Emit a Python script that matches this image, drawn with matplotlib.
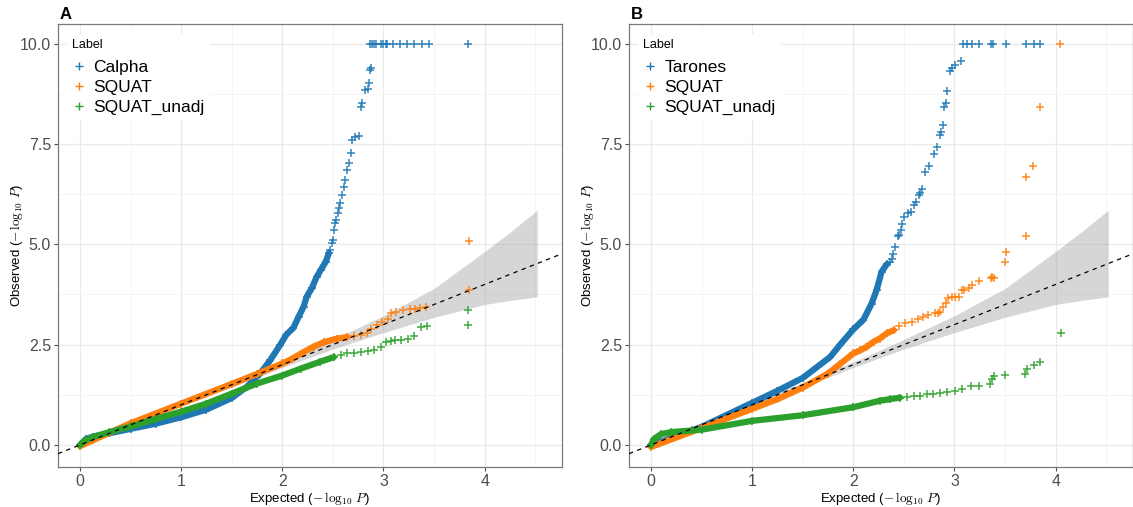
import matplotlib
matplotlib.use("Agg")
import matplotlib.pyplot as plt
from matplotlib.ticker import MultipleLocator, FixedLocator
from matplotlib.lines import Line2D

plt.rcParams["font.family"] = ["Liberation Sans", "DejaVu Sans"]
plt.rcParams["mathtext.fontset"] = "cm"

# -----------------------------
# Data
# -----------------------------
# confidence band (same in both panels)
band_x = [0, 0.5, 1.0, 1.5, 2.0, 2.5, 3.0, 3.5, 4.0, 4.25, 4.52]
band_lo = [0, 0.49, 0.97, 1.44, 1.93, 2.39, 2.80, 3.18, 3.50, 3.60, 3.69]
band_hi = [0, 0.51, 1.03, 1.56, 2.07, 2.63, 3.22, 3.90, 4.82, 5.30, 5.85]

# Panel A
calpha_dense_x = [0, 0.06, 0.13, 0.29, 0.5, 0.75, 1.0, 1.25, 1.5, 1.65, 1.78, 1.88,
                  1.98, 2.04, 2.11, 2.16, 2.21, 2.24, 2.29, 2.34, 2.38, 2.43, 2.46]
calpha_dense_y = [0, 0.15, 0.21, 0.29, 0.4, 0.53, 0.69, 0.88, 1.17, 1.45, 1.78, 2.11,
                  2.5, 2.75, 2.92, 3.19, 3.44, 3.69, 3.9, 4.19, 4.36, 4.57, 4.78]
calpha_tail_x = [2.47, 2.49, 2.50, 2.51, 2.52, 2.53, 2.55, 2.56, 2.57, 2.59, 2.61, 2.62,
                 2.64, 2.66, 2.68, 2.69, 2.72, 2.76, 2.78, 2.79, 2.82, 2.85, 2.86, 2.87,
                 2.88, 2.87, 2.89, 2.91, 2.93, 2.98, 3.00, 3.02, 3.03, 3.09, 3.16, 3.23,
                 3.30, 3.38, 3.45, 3.84]
calpha_tail_y = [4.85, 5.03, 5.1, 5.35, 5.53, 5.6, 5.77, 5.9, 6.02, 6.22, 6.43, 6.6,
                 6.85, 7.02, 7.28, 7.6, 7.67, 7.7, 8.43, 8.52, 8.85, 8.87, 9.03, 9.35,
                 9.4, 10.0, 10.0, 10.0, 10.0, 10.0, 10.0, 10.0, 10.0, 10.0, 10.0, 10.0,
                 10.0, 10.0, 10.0, 10.0]

squatA_dense_x = [0, 0.13, 0.5, 1.0, 1.5, 1.75, 2.0, 2.1, 2.2, 2.31, 2.41, 2.54, 2.64]
squatA_dense_y = [-0.03, 0.12, 0.54, 1.03, 1.52, 1.77, 2.03, 2.15, 2.3, 2.45, 2.56, 2.65, 2.69]
squatA_tail_x = [2.71, 2.78, 2.84, 2.88, 2.94, 2.99, 3.04, 3.07, 3.12, 3.19, 3.26, 3.31,
                 3.36, 3.42, 3.85, 3.85]
squatA_tail_y = [2.71, 2.73, 2.8, 2.9, 2.98, 3.07, 3.15, 3.28, 3.32, 3.36, 3.38, 3.38,
                 3.40, 3.44, 3.86, 5.07]

unadjA_dense_x = [0, 0.04, 0.13, 0.29, 0.5, 0.75, 1.0, 1.25, 1.5, 1.75, 2.0, 2.18, 2.37, 2.51]
unadjA_dense_y = [0, 0.09, 0.2, 0.32, 0.46, 0.65, 0.83, 1.03, 1.28, 1.53, 1.73, 1.9, 2.07, 2.19]
unadjA_tail_x = [2.58, 2.64, 2.71, 2.78, 2.85, 2.91, 2.98, 3.02, 3.07, 3.11, 3.17, 3.24,
                 3.30, 3.37, 3.43, 3.84, 3.84]
unadjA_tail_y = [2.23, 2.28, 2.3, 2.32, 2.34, 2.36, 2.44, 2.57, 2.6, 2.61, 2.61, 2.65,
                 2.71, 2.94, 2.96, 3.36, 3.0]

# Panel B
tarones_dense_x = [0, 0.2, 0.5, 1.0, 1.25, 1.5, 1.77, 1.87, 2.0, 2.1, 2.18, 2.23, 2.28, 2.33]
tarones_dense_y = [0, 0.17, 0.45, 1.05, 1.35, 1.67, 2.19, 2.5, 2.88, 3.12, 3.52, 3.86, 4.32, 4.5]
tarones_tail_x = [2.36, 2.38, 2.39, 2.41, 2.44, 2.45, 2.47, 2.48, 2.50, 2.54, 2.57, 2.60,
                  2.62, 2.65, 2.66, 2.68, 2.71, 2.75, 2.80, 2.83, 2.86, 2.87, 2.89, 2.90,
                  2.92, 2.93, 2.96, 2.98, 3.01, 3.06, 3.08, 3.12, 3.17, 3.24, 3.36, 3.38,
                  3.51, 3.71, 3.79, 3.85]
tarones_tail_y = [4.57, 4.64, 4.77, 4.93, 5.2, 5.23, 5.35, 5.5, 5.68, 5.77, 5.81, 5.98,
                  6.06, 6.22, 6.27, 6.39, 6.81, 6.95, 7.25, 7.43, 7.73, 7.81, 7.98, 8.43,
                  8.53, 8.81, 9.31, 9.39, 9.48, 9.56, 10.0, 10.0, 10.0, 10.0, 10.0, 10.0,
                  10.0, 10.0, 10.0, 10.0]

squatB_dense_x = [0, 0.5, 1.0, 1.25, 1.5, 1.75, 1.87, 2.0, 2.07, 2.13, 2.2, 2.26, 2.33, 2.4]
squatB_dense_y = [-0.05, 0.42, 0.9, 1.14, 1.43, 1.78, 2.02, 2.28, 2.36, 2.44, 2.57, 2.65, 2.78, 2.86]
squatB_tail_x = [2.45, 2.51, 2.58, 2.64, 2.69, 2.74, 2.81, 2.84, 2.86, 2.89, 2.92, 2.94,
                 2.98, 3.01, 3.04, 3.07, 3.09, 3.14, 3.17, 3.24, 3.36, 3.37, 3.39, 3.50,
                 3.51, 3.71, 3.71, 3.78, 3.85, 4.04]
squatB_tail_y = [2.96, 3.03, 3.07, 3.15, 3.19, 3.23, 3.28, 3.28, 3.32, 3.44, 3.53, 3.65,
                 3.69, 3.69, 3.69, 3.86, 3.87, 3.9, 3.98, 4.09, 4.15, 4.19, 4.17, 4.57,
                 4.8, 5.21, 6.68, 6.96, 8.42, 10.0]

unadjB_dense_x = [0, 0.03, 0.1, 0.2, 0.4, 0.5, 1.0, 1.5, 2.0, 2.26, 2.36, 2.46]
unadjB_dense_y = [0, 0.15, 0.27, 0.32, 0.36, 0.38, 0.6, 0.74, 0.94, 1.1, 1.14, 1.18]
unadjB_tail_x = [2.53, 2.60, 2.66, 2.73, 2.79, 2.86, 2.93, 3.01, 3.07, 3.16, 3.24, 3.35,
                 3.37, 3.39, 3.50, 3.70, 3.72, 3.79, 3.85, 4.05]
unadjB_tail_y = [1.19, 1.21, 1.23, 1.26, 1.28, 1.29, 1.32, 1.34, 1.4, 1.48, 1.48, 1.53,
                 1.65, 1.73, 1.75, 1.78, 1.9, 2.0, 2.07, 2.78]

colors = ["#1f77b4", "#ff7f0e", "#2ca02c"]

panels = [
    ("A", ["Calpha", "SQUAT", "SQUAT_unadj"],
     [(calpha_dense_x, calpha_dense_y, calpha_tail_x, calpha_tail_y),
      (squatA_dense_x, squatA_dense_y, squatA_tail_x, squatA_tail_y),
      (unadjA_dense_x, unadjA_dense_y, unadjA_tail_x, unadjA_tail_y)]),
    ("B", ["Tarones", "SQUAT", "SQUAT_unadj"],
     [(tarones_dense_x, tarones_dense_y, tarones_tail_x, tarones_tail_y),
      (squatB_dense_x, squatB_dense_y, squatB_tail_x, squatB_tail_y),
      (unadjB_dense_x, unadjB_dense_y, unadjB_tail_x, unadjB_tail_y)]),
]

fig = plt.figure(figsize=(11.33, 5.07), dpi=100)
lefts = [58 / 1133, 629 / 1133]

for (tag, labels, series), left in zip(panels, lefts):
    ax = fig.add_axes([left, 40 / 507, 503.5 / 1133, 443 / 507])

    ax.fill_between(band_x, band_lo, band_hi, color="#9a9a9a", alpha=0.4,
                    linewidth=0, zorder=2)

    for (dx, dy, tx, ty), c in zip(series, colors):
        ax.plot(dx, dy, color=c, lw=4.5, solid_capstyle="round",
                solid_joinstyle="round", zorder=3)
        ax.plot(dx, dy, ls="none", marker="+", ms=6, mew=1.1, color=c, zorder=3)
        ax.plot(tx, ty, ls="none", marker="+", ms=6, mew=1.1, color=c, alpha=0.9, zorder=3)

    ax.axline((0, 0), slope=1, ls=(0, (3.5, 3.5)), color="black", lw=0.9, zorder=4)

    ax.set_xlim(-0.218, 4.76)
    ax.set_ylim(-0.55, 10.49)
    ax.xaxis.set_major_locator(FixedLocator([0, 1, 2, 3, 4]))
    ax.xaxis.set_minor_locator(MultipleLocator(0.5))
    ax.yaxis.set_major_locator(FixedLocator([0, 2.5, 5, 7.5, 10]))
    ax.yaxis.set_minor_locator(MultipleLocator(1.25))
    ax.set_yticklabels(["0.0", "2.5", "5.0", "7.5", "10.0"])
    ax.grid(which="major", color="#ebebeb", lw=1.0, zorder=0)
    ax.grid(which="minor", color="#f2f2f2", lw=0.6, zorder=0)
    ax.set_axisbelow(True)
    ax.tick_params(which="major", length=3, width=0.8, color="#4d4d4d",
                   labelsize=11.5, labelcolor="#4d4d4d", pad=2)
    ax.tick_params(which="minor", length=0)
    for s in ax.spines.values():
        s.set_color("#7a7a7a")
        s.set_linewidth(0.9)

    ax.set_xlabel(r"Expected ($-\,\log_{10}\,P$)", fontsize=9.5, labelpad=1)
    ax.set_ylabel(r"Observed ($-\,\log_{10}\,P$)", fontsize=9.5)
    ax.yaxis.set_label_coords(-0.066, 0.5)

    handles = [Line2D([], [], ls="none", marker="+", ms=6, mew=1.0, color=c) for c in colors]
    leg = ax.legend(handles, labels, title="Label", loc="upper left",
                    bbox_to_anchor=(0.0, 0.997), fontsize=12.5, title_fontsize=9,
                    frameon=True, facecolor="white", edgecolor="white", framealpha=1,
                    handlelength=0.8, handletextpad=0.45, labelspacing=0.28,
                    borderpad=0.3, alignment="left")
    leg.get_frame().set_linewidth(0)
    leg.set_zorder(5)
    leg._legend_box.sep = 6

    fig.text(left + 2 / 1133, 1 - 19 / 507, tag, fontsize=12, fontweight="bold",
             ha="left", va="baseline")

plt.savefig("out.png", dpi=100)
